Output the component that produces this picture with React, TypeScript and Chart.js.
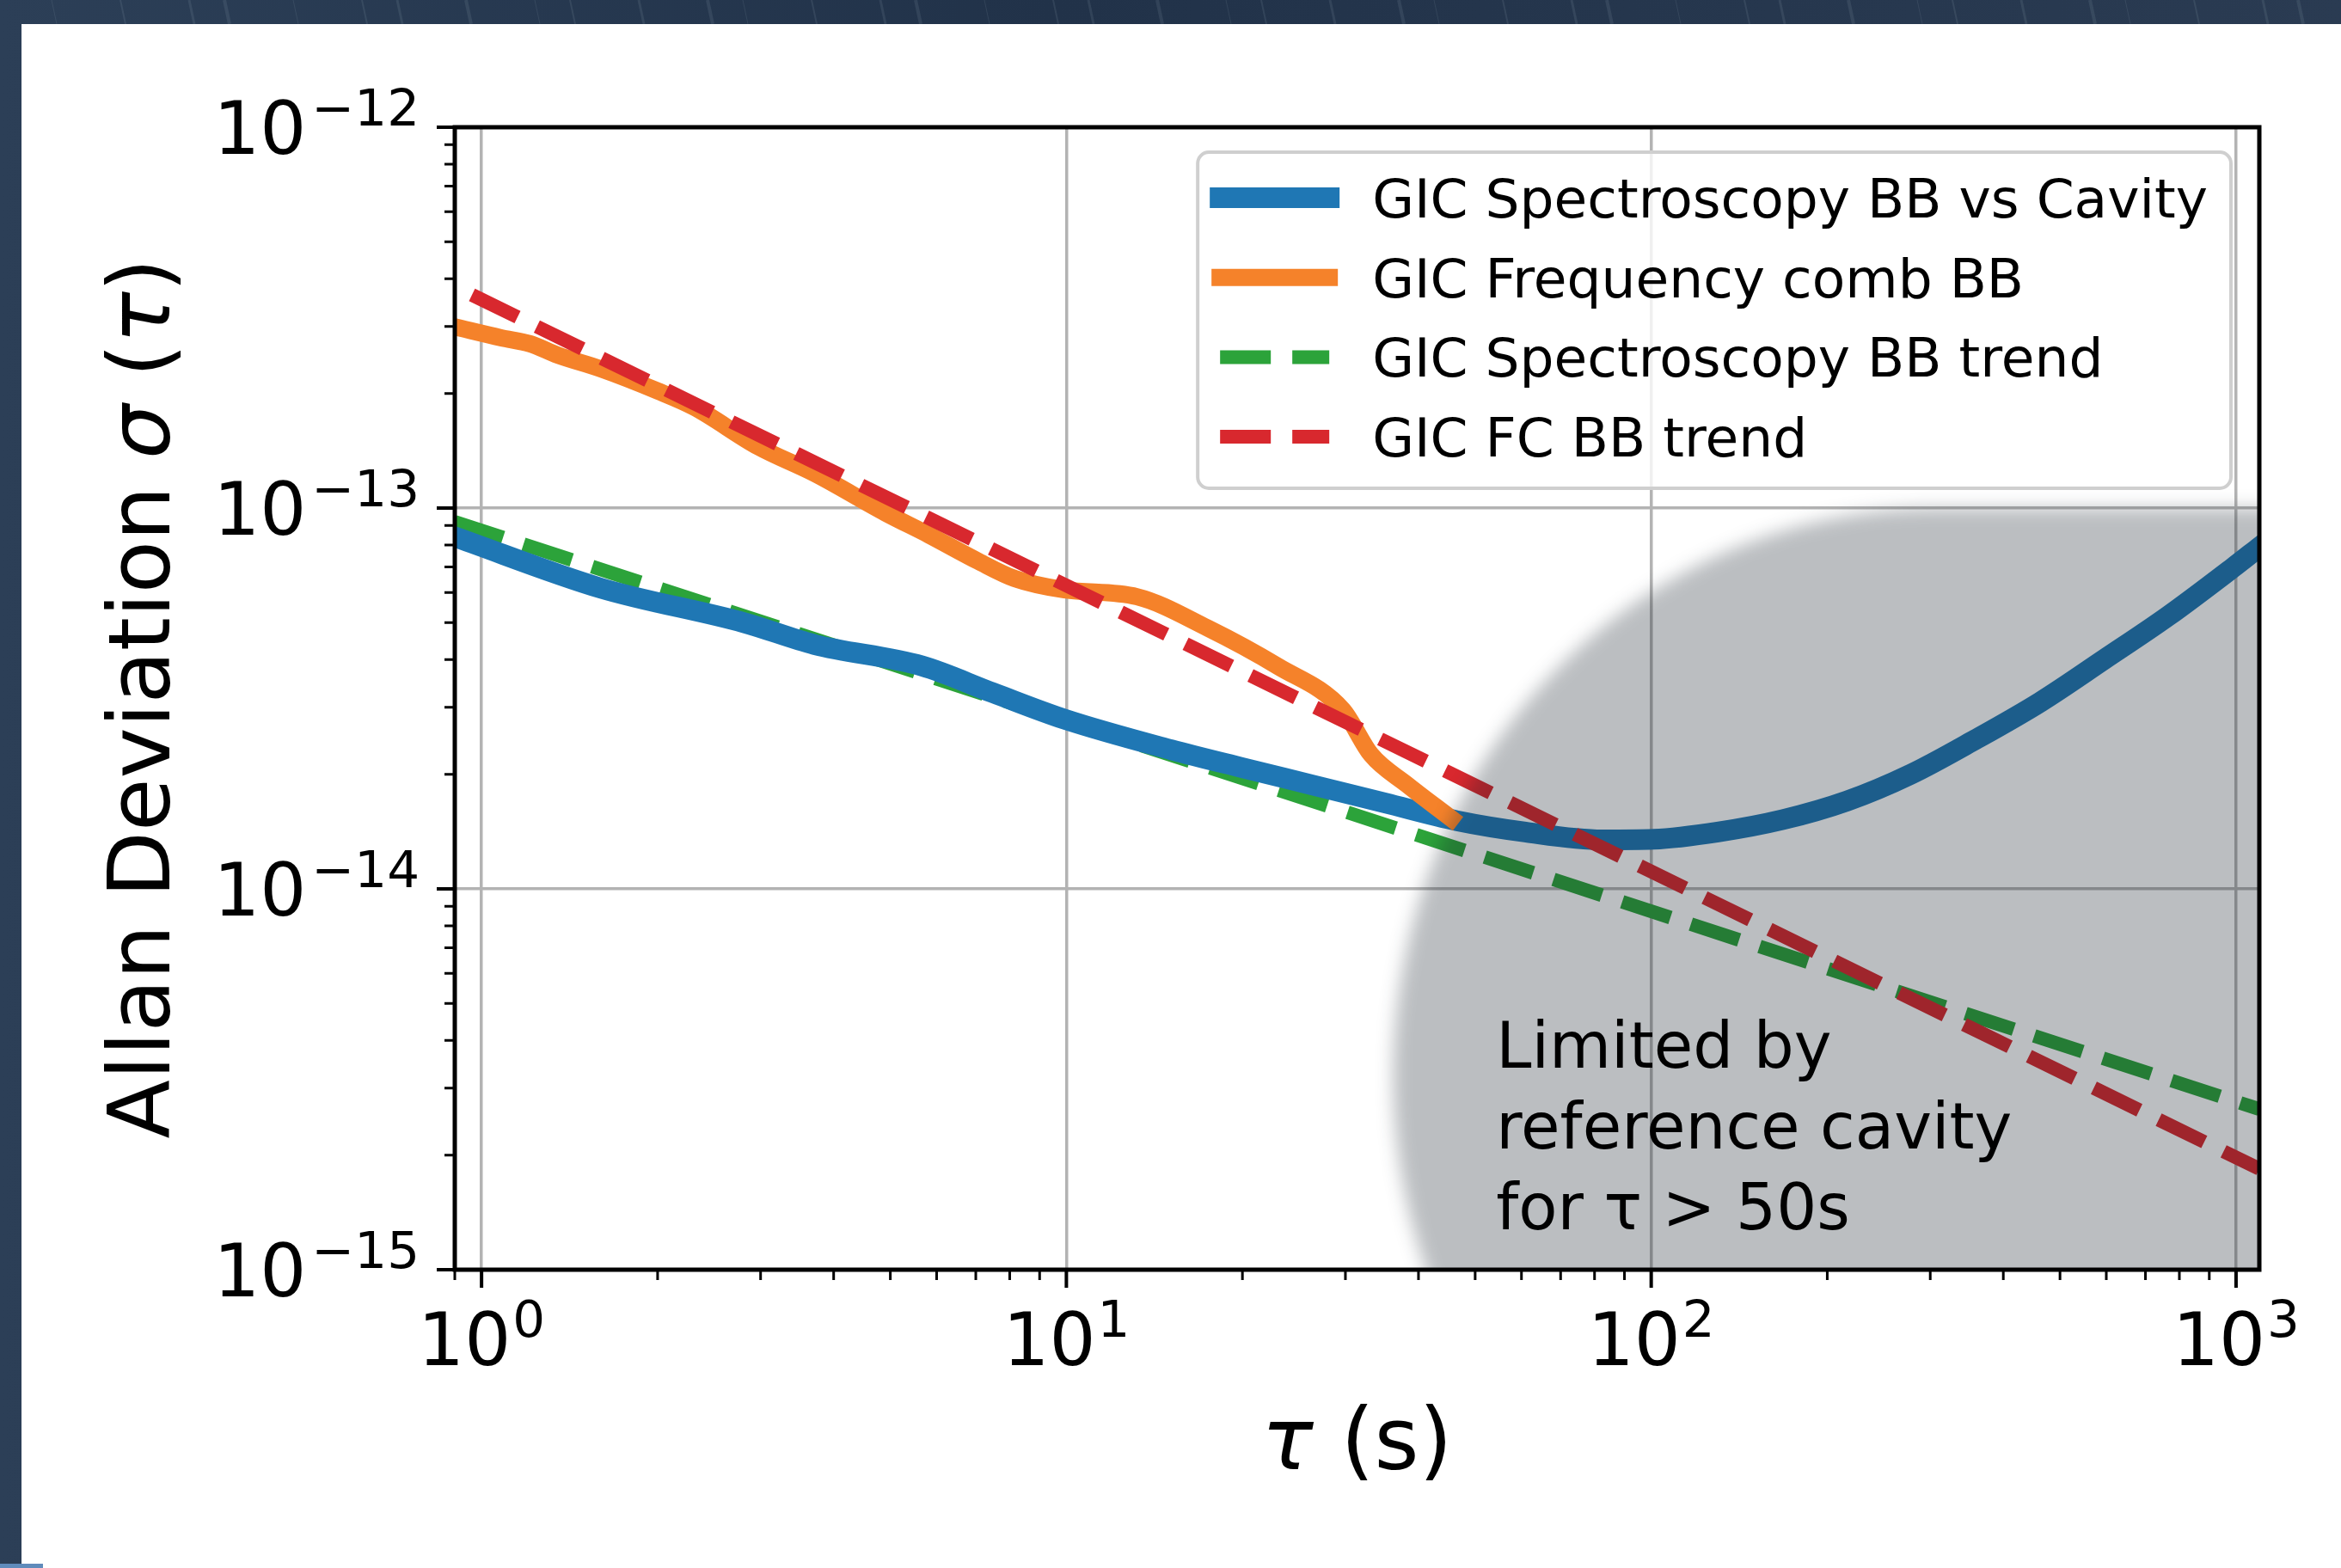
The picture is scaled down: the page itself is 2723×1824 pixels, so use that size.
import React, { useEffect, useRef } from "react";
import { Chart, registerables } from "chart.js";

Chart.register(...registerables);

const W = 2723;
const H = 1824;
const FONT = "'DejaVu Sans'";

// ---------- data ----------
const blueTau = [0.9, 1.6, 2.81, 3.71, 5.66, 7.5, 9.93, 15.1, 20, 26.5, 35.1, 46.5, 60.9, 82.6, 101, 130, 168, 216, 278, 359, 462, 596, 765, 986, 1096];
const blueSigma = [8.4e-14, 6.16e-14, 5.0e-14, 4.38e-14, 3.85e-14, 3.27e-14, 2.79e-14, 2.32e-14, 2.08e-14, 1.87e-14, 1.68e-14, 1.51e-14, 1.41e-14, 1.345e-14, 1.35e-14, 1.41e-14, 1.52e-14, 1.7e-14, 2.0e-14, 2.47e-14, 3.09e-14, 4.01e-14, 5.2e-14, 6.96e-14, 7.9e-14];

const orangeTau = [0.9, 1.08, 1.21, 1.35, 1.6, 2.0, 2.31, 2.97, 3.72, 4.91, 5.82, 7.08, 8.16, 9.93, 13.2, 17.4, 23, 29.7, 33.2, 38.2, 45.5];
const orangeSigma = [2.99e-13, 2.8e-13, 2.7e-13, 2.52e-13, 2.32e-13, 2.03e-13, 1.84e-13, 1.45e-13, 1.23e-13, 9.7e-14, 8.5e-14, 7.24e-14, 6.53e-14, 6.1e-14, 5.85e-14, 4.85e-14, 3.84e-14, 2.95e-14, 2.25e-14, 1.88e-14, 1.53e-14];

const greenTau = [0.9, 1096];
const greenSigma = [9.2e-14, 2.64e-15];

const redTau = [0.963, 1096];
const redSigma = [3.63e-13, 1.84e-15];

const seriesLabels = [
  "GIC Spectroscopy BB vs Cavity",
  "GIC Frequency comb BB",
  "GIC Spectroscopy BB trend",
  "GIC FC BB trend",
];

const xMin = 0.9;
const xMax = 1096;
const yMin = 1e-15;
const yMax = 1e-12;

const xMajorTicks = [1, 10, 100, 1000];
const xTickExponents = ["0", "1", "2", "3"];
const yMajorTicks = [1e-15, 1e-14, 1e-13, 1e-12];
const yTickExponents = ["\u221215", "\u221214", "\u221213", "\u221212"];

const xTitleParts: [string, boolean][] = [["\u03c4", true], [" (s)", false]];
const yTitleParts: [string, boolean][] = [["Allan Deviation ", false], ["\u03c3", true], [" (", false], ["\u03c4", true], [")", false]];

const annotationLines = ["Limited by", "reference cavity", "for \u03c4 > 50s"];
const annotationTau = 54.3;
const annotationSigma = 3.39e-15;

// shaded "limited by reference cavity" region: left half-ellipse bounding box (data units),
// extended flat to the right edge of the axes
const shadeTau = [36.2, 2571];
const shadeSigma = [1.05e-16, 1.0e-13];

const colors = {
  blue: "#1f77b4",
  orange: "#f5822a",
  green: "#2ca33a",
  red: "#d8282e",
};

function minorValues(lo: number, hi: number): number[] {
  const out: number[] = [];
  const k0 = Math.floor(Math.log10(lo)) - 1;
  const k1 = Math.ceil(Math.log10(hi)) + 1;
  for (let k = k0; k <= k1; k++) {
    for (let m = 2; m <= 9; m++) {
      const v = m * Math.pow(10, k);
      if (v >= lo * 0.9999 && v <= hi * 1.0001) out.push(v);
    }
  }
  return out;
}

function drawMixed(ctx: CanvasRenderingContext2D, parts: [string, boolean][], size: number, x: number, y: number) {
  const widths = parts.map(([t, it]) => {
    ctx.font = `${it ? "italic " : ""}${size}px ${FONT}`;
    return ctx.measureText(t).width;
  });
  const total = widths.reduce((a, b) => a + b, 0);
  let cx = x - total / 2;
  ctx.textAlign = "left";
  ctx.textBaseline = "alphabetic";
  parts.forEach(([t, it], i) => {
    ctx.font = `${it ? "italic " : ""}${size}px ${FONT}`;
    ctx.fillText(t, cx, y);
    cx += widths[i];
  });
}

const decorPlugin = {
  id: "decor",
  beforeDraw(chart: any) {
    const ctx: CanvasRenderingContext2D = chart.ctx;
    ctx.save();
    const g = ctx.createLinearGradient(0, 0, W, 0);
    g.addColorStop(0, "#2c3f57");
    g.addColorStop(0.45, "#213249");
    g.addColorStop(1, "#2a3b52");
    ctx.fillStyle = g;
    ctx.fillRect(0, 0, W, H);
    ctx.globalAlpha = 0.1;
    ctx.strokeStyle = "#c8d4e0";
    for (let i = 0; i < 40; i++) {
      const sx = 60 + i * 67 + (i % 3) * 13;
      ctx.lineWidth = 1 + (i % 4);
      ctx.beginPath();
      ctx.moveTo(sx, 0);
      ctx.lineTo(sx + 6, 28);
      ctx.stroke();
    }
    ctx.globalAlpha = 1;
    ctx.fillStyle = "#ffffff";
    ctx.fillRect(25, 28, W - 25, H - 28);
    ctx.fillStyle = "#5f8bbb";
    ctx.fillRect(0, 1819, 50, 5);
    ctx.restore();
  },
  afterDatasetsDraw(chart: any) {
    const ctx: CanvasRenderingContext2D = chart.ctx;
    const ca = chart.chartArea;
    const xs = chart.scales.x;
    const ys = chart.scales.y;

    // gray shaded region
    ctx.save();
    ctx.beginPath();
    ctx.rect(ca.left, ca.top, ca.right - ca.left, ca.bottom - ca.top);
    ctx.clip();
    const ex0 = xs.getPixelForValue(shadeTau[0]);
    const ex1 = xs.getPixelForValue(shadeTau[1]);
    const ey0 = ys.getPixelForValue(shadeSigma[1]);
    const ey1 = ys.getPixelForValue(shadeSigma[0]);
    const ecx = (ex0 + ex1) / 2;
    const ecy = (ey0 + ey1) / 2;
    const far = ca.right + 200;
    ctx.filter = "blur(10px)";
    ctx.fillStyle = "rgba(20,30,40,0.29)";
    ctx.beginPath();
    ctx.ellipse(ecx, ecy, (ex1 - ex0) / 2, (ey1 - ey0) / 2, 0, -Math.PI / 2, Math.PI / 2, true);
    ctx.lineTo(far, ey1);
    ctx.lineTo(far, ey0);
    ctx.closePath();
    ctx.fill();
    ctx.restore();

    // annotation text
    ctx.save();
    ctx.fillStyle = "#000";
    ctx.font = `74px ${FONT}`;
    ctx.textAlign = "left";
    ctx.textBaseline = "alphabetic";
    const ax = xs.getPixelForValue(annotationTau);
    const ay = ys.getPixelForValue(annotationSigma);
    annotationLines.forEach((t, i) => ctx.fillText(t, ax, ay + i * 94));
    ctx.restore();

    // spines
    ctx.save();
    ctx.strokeStyle = "#000";
    ctx.lineWidth = 5;
    ctx.strokeRect(ca.left, ca.top, ca.right - ca.left, ca.bottom - ca.top);

    // ticks
    ctx.lineCap = "butt";
    ctx.lineWidth = 4;
    ctx.beginPath();
    xMajorTicks.forEach((v) => {
      const px = xs.getPixelForValue(v);
      ctx.moveTo(px, ca.bottom);
      ctx.lineTo(px, ca.bottom + 21);
    });
    yMajorTicks.forEach((v) => {
      const py = ys.getPixelForValue(v);
      ctx.moveTo(ca.left, py);
      ctx.lineTo(ca.left - 21, py);
    });
    ctx.stroke();
    ctx.lineWidth = 3;
    ctx.beginPath();
    minorValues(xMin, xMax).forEach((v) => {
      const px = xs.getPixelForValue(v);
      ctx.moveTo(px, ca.bottom);
      ctx.lineTo(px, ca.bottom + 12);
    });
    minorValues(yMin, yMax).forEach((v) => {
      const py = ys.getPixelForValue(v);
      ctx.moveTo(ca.left, py);
      ctx.lineTo(ca.left - 12, py);
    });
    ctx.stroke();

    // tick labels
    ctx.fillStyle = "#000";
    ctx.textBaseline = "alphabetic";
    ctx.textAlign = "left";
    const baseFont = `85px ${FONT}`;
    const expFont = `59.5px ${FONT}`;
    xMajorTicks.forEach((v, i) => {
      const px = xs.getPixelForValue(v);
      ctx.font = baseFont;
      const wb = ctx.measureText("10").width;
      ctx.font = expFont;
      const we = ctx.measureText(xTickExponents[i]).width;
      const total = wb + 2 + we;
      const sx = px - total / 2;
      ctx.font = baseFont;
      ctx.fillText("10", sx, ca.bottom + 111);
      ctx.font = expFont;
      ctx.fillText(xTickExponents[i], sx + wb + 2, ca.bottom + 78);
    });
    yMajorTicks.forEach((v, i) => {
      const py = ys.getPixelForValue(v);
      ctx.font = baseFont;
      const wb = ctx.measureText("10").width;
      ctx.font = expFont;
      const we = ctx.measureText(yTickExponents[i]).width;
      const right = ca.left - 41;
      const sx = right - (wb + 6 + we);
      ctx.font = baseFont;
      ctx.fillText("10", sx, py + 31);
      ctx.font = expFont;
      ctx.fillText(yTickExponents[i], sx + wb + 6, py - 2);
    });

    // axis titles
    drawMixed(ctx, xTitleParts, 100, (ca.left + ca.right) / 2, 1709);
    ctx.save();
    ctx.translate(197, (ca.top + ca.bottom) / 2);
    ctx.rotate(-Math.PI / 2);
    drawMixed(ctx, yTitleParts, 100, 0, 0);
    ctx.restore();
    ctx.restore();

    // legend
    ctx.save();
    const fs = 63;
    ctx.font = `${fs}px ${FONT}`;
    const datasets = chart.data.datasets;
    const maxW = Math.max(...datasets.map((d: any) => ctx.measureText(d.label).width));
    const boxW = 26 + 127 + 50 + maxW + 27;
    const boxH = 391;
    const bx = ca.right - 33 - boxW;
    const by = ca.top + 29;
    ctx.beginPath();
    ctx.roundRect(bx, by, boxW, boxH, 13);
    ctx.fillStyle = "rgba(255,255,255,0.8)";
    ctx.fill();
    ctx.strokeStyle = "#cfcfcf";
    ctx.lineWidth = 4;
    ctx.stroke();
    datasets.forEach((d: any, i: number) => {
      const ry = by + 53 + i * 92.7;
      const hx = bx + 26;
      ctx.save();
      ctx.strokeStyle = d.borderColor;
      ctx.lineWidth = d.borderWidth;
      ctx.lineCap = d.borderCapStyle;
      ctx.setLineDash(d.borderDash || []);
      ctx.beginPath();
      ctx.moveTo(hx, ry);
      ctx.lineTo(hx + 127, ry);
      ctx.stroke();
      ctx.restore();
      ctx.fillStyle = "#000";
      ctx.font = `${fs}px ${FONT}`;
      ctx.textAlign = "left";
      ctx.textBaseline = "alphabetic";
      ctx.fillText(d.label, hx + 127 + 50, ry + 23);
    });
    ctx.restore();
  },
};

function toPoints(xs: number[], ys: number[]) {
  return xs.map((x, i) => ({ x, y: ys[i] }));
}

export default function App() {
  const ref = useRef<HTMLCanvasElement | null>(null);
  useEffect(() => {
    document.body.style.margin = "0";
    document.body.style.overflow = "hidden";
    const canvas = ref.current;
    if (!canvas) return;
    const chart = new Chart(canvas, {
      type: "line",
      data: {
        datasets: [
          {
            label: seriesLabels[0],
            data: toPoints(blueTau, blueSigma),
            borderColor: colors.blue,
            borderWidth: 24,
            borderCapStyle: "square",
            borderJoinStyle: "round",
            cubicInterpolationMode: "monotone",
            pointRadius: 0,
            fill: false,
            clip: 0,
            order: 2,
          },
          {
            label: seriesLabels[1],
            data: toPoints(orangeTau, orangeSigma),
            borderColor: colors.orange,
            borderWidth: 20,
            borderCapStyle: "square",
            borderJoinStyle: "round",
            cubicInterpolationMode: "monotone",
            pointRadius: 0,
            fill: false,
            clip: 0,
            order: 1,
          },
          {
            label: seriesLabels[2],
            data: toPoints(greenTau, greenSigma),
            borderColor: colors.green,
            borderWidth: 16,
            borderDash: [59, 25],
            borderCapStyle: "butt",
            pointRadius: 0,
            fill: false,
            clip: 0,
            order: 3,
          },
          {
            label: seriesLabels[3],
            data: toPoints(redTau, redSigma),
            borderColor: colors.red,
            borderWidth: 16,
            borderDash: [59, 25],
            borderCapStyle: "butt",
            pointRadius: 0,
            fill: false,
            clip: 0,
            order: 0,
          },
        ] as any,
      },
      options: {
        animation: false,
        responsive: false,
        maintainAspectRatio: false,
        devicePixelRatio: 1,
        layout: { padding: { left: 0, top: 148, right: 95, bottom: 0 } },
        plugins: { legend: { display: false }, tooltip: { enabled: false } },
        elements: { point: { radius: 0 } },
        scales: {
          x: {
            type: "logarithmic",
            position: "bottom",
            min: xMin,
            max: xMax,
            afterBuildTicks: (s: any) => {
              s.ticks = xMajorTicks.map((v) => ({ value: v }));
            },
            afterFit: (s: any) => {
              s.height = 347;
            },
            ticks: { display: false },
            grid: { color: "#b3b3b3", lineWidth: 3.5, drawTicks: false },
            border: { display: false },
          },
          y: {
            type: "logarithmic",
            position: "left",
            min: yMin,
            max: yMax,
            afterBuildTicks: (s: any) => {
              s.ticks = yMajorTicks.map((v) => ({ value: v }));
            },
            afterFit: (s: any) => {
              s.width = 529;
            },
            ticks: { display: false },
            grid: { color: "#b3b3b3", lineWidth: 3.5, drawTicks: false },
            border: { display: false },
          },
        },
      } as any,
      plugins: [decorPlugin as any],
    });
    return () => chart.destroy();
  }, []);
  return (
    <div style={{ position: "absolute", left: 0, top: 0, width: W, height: H }}>
      <canvas ref={ref} width={W} height={H} style={{ width: W, height: H, display: "block" }} />
    </div>
  );
}
